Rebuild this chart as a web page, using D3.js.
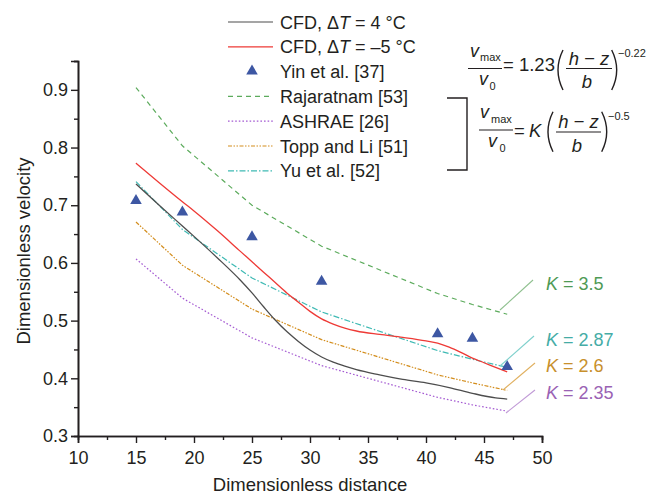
<!DOCTYPE html>
<html><head><meta charset="utf-8">
<script src="https://cdn.jsdelivr.net/npm/d3@7"></script>
<style>
body{margin:0;background:#fff;}
text{font-family:"Liberation Sans",Arial,sans-serif;fill:#231f20;}
</style></head>
<body><svg id="c" width="664" height="495"></svg>
<script>
// ---- data ----
const modelX = [15,19,25,31,41,44,47];
const yinData = [0.708,0.688,0.645,0.568,0.477,0.469,0.420];
const rajaratnam = [0.904,0.803,0.700,0.629,0.547,0.528,0.511];
const ashrae = [0.607,0.539,0.470,0.422,0.367,0.354,0.343];
const toppLi = [0.671,0.596,0.520,0.467,0.406,0.392,0.379];
const yuEtAl = [0.741,0.658,0.574,0.515,0.448,0.433,0.419];
const cfd4X = [15,17,19,20,22,24,25,26,27,28,29,30,31,32,33,34,36,38,40,42,44,46,47];
const cfd4Y = [0.737,0.700,0.664,0.646,0.609,0.570,0.548,0.524,0.501,0.481,0.464,0.449,0.437,0.428,0.421,0.415,0.406,0.398,0.392,0.384,0.374,0.366,0.364];
const cfdm5X = [15,17,19,20,22,24,25,26,27,28,29,30,31,32,33,34,36,38,40,41,42,43,44,45,46,47];
const cfdm5Y = [0.773,0.739,0.706,0.690,0.656,0.620,0.602,0.584,0.566,0.548,0.532,0.516,0.503,0.494,0.487,0.482,0.476,0.471,0.465,0.461,0.454,0.445,0.435,0.427,0.419,0.411];
const xTicks = [10,15,20,25,30,35,40,45,50];
const yTicks = [0.3,0.4,0.5,0.6,0.7,0.8,0.9];
const kLabels = ["3.5","2.87","2.6","2.35"];

const svg = d3.select("#c");
const x = d3.scaleLinear().domain([10,50]).range([78,542]);
const y = d3.scaleLinear().domain([0.3,0.95]).range([436,61]);

// axes
const axisCol = "#231f20";
function styleAxis(g){
  g.select(".domain").attr("stroke",axisCol).attr("stroke-width",1.6);
  g.selectAll(".tick line").attr("stroke",axisCol).attr("stroke-width",1.4);
  g.selectAll(".tick text").attr("font-size",18).attr("fill","#231f20")
   .style("font-family","'Liberation Sans',Arial,sans-serif");
}
const xMinor = d3.range(12.5,50,5);
const yMinor = d3.range(0.35,0.96,0.1);
svg.append("g").attr("transform","translate(0,436)")
  .call(d3.axisBottom(x).tickValues(xMinor).tickSize(4).tickFormat("")).call(styleAxis);
svg.append("g").attr("transform","translate(78,0)")
  .call(d3.axisLeft(y).tickValues(yMinor).tickSize(4).tickFormat("")).call(styleAxis);
svg.append("g").attr("transform","translate(0,436)")
  .call(d3.axisBottom(x).tickValues(xTicks).tickSize(7).tickPadding(8).tickFormat(d3.format("d"))).call(styleAxis);
svg.append("g").attr("transform","translate(78,0)")
  .call(d3.axisLeft(y).tickValues(yTicks).tickSize(7).tickPadding(3).tickFormat(d3.format(".1f"))).call(styleAxis);

svg.append("text").attr("x",310).attr("y",491).attr("text-anchor","middle").attr("font-size",18.5).text("Dimensionless distance");
svg.append("text").attr("transform","translate(30,251) rotate(-90)").attr("text-anchor","middle").attr("font-size",18.5).text("Dimensionless velocity");

// series
const series = [
  {name:"Rajaratnam [53]", xs:modelX, ys:rajaratnam, color:"#5cab5c", dash:"5,4", w:1.2, curve:d3.curveLinear},
  {name:"ASHRAE [26]", xs:modelX, ys:ashrae, color:"#a45ad2", dash:"1.6,2", w:1.2, curve:d3.curveLinear},
  {name:"Topp and Li [51]", xs:modelX, ys:toppLi, color:"#d38d1c", dash:"4,1.5,1.5,1.5,1.5,1.5", w:1.2, curve:d3.curveLinear},
  {name:"Yu et al. [52]", xs:modelX, ys:yuEtAl, color:"#3fbab4", dash:"6,2,1.5,2", w:1.2, curve:d3.curveLinear},
  {name:"CFD4", xs:cfd4X, ys:cfd4Y, color:"#4d4d4d", dash:null, w:1.3, curve:d3.curveMonotoneX},
  {name:"CFD-5", xs:cfdm5X, ys:cfdm5Y, color:"#ee3a36", dash:null, w:1.3, curve:d3.curveMonotoneX}
];
series.forEach(s=>{
  const line = d3.line().x(d=>x(d[0])).y(d=>y(d[1])).curve(s.curve);
  svg.append("path").datum(s.xs.map((v,i)=>[v,s.ys[i]]))
    .attr("d",line).attr("fill","none").attr("stroke",s.color)
    .attr("stroke-width",s.w).attr("stroke-dasharray",s.dash);
});

// Yin triangles
const tri = d3.symbol().type(d3.symbolTriangle).size(58);
svg.selectAll(".yin").data(modelX.map((v,i)=>[v,yinData[i]])).join("path")
  .attr("transform",d=>`translate(${x(d[0])},${y(d[1])})`).attr("d",tri).attr("fill","#3d57a3");

// K labels with leader lines
const kPos = [
  {k:kLabels[0], lx1:500, ly1:310, lx2:533, ly2:280, ty:290, c:"#4f9a55", lc:"#8fc08f"},
  {k:kLabels[1], lx1:500, ly1:366, lx2:534, ly2:336, ty:346, c:"#45aca6", lc:"#7fd0cc"},
  {k:kLabels[2], lx1:503, ly1:390, lx2:535, ly2:363, ty:372, c:"#c8902c", lc:"#e0b060"},
  {k:kLabels[3], lx1:506, ly1:413, lx2:535, ly2:390, ty:399, c:"#9a62b4", lc:"#c09ad6"}
];
kPos.forEach(p=>{
  svg.append("line").attr("x1",p.lx1).attr("y1",p.ly1).attr("x2",p.lx2).attr("y2",p.ly2)
    .attr("stroke",p.lc).attr("stroke-width",1.1);
  const t = svg.append("text").attr("x",546).attr("y",p.ty).attr("font-size",18).style("fill",p.c);
  t.append("tspan").attr("font-style","italic").text("K");
  t.append("tspan").text(" = "+p.k);
});

// legend
const leg = [
  {type:"line", color:"#4d4d4d", dash:null, label:[["CFD, Δ",""],["T","i"],[" = 4 °C",""]]},
  {type:"line", color:"#ee3a36", dash:null, label:[["CFD, Δ",""],["T","i"],[" = –5 °C",""]]},
  {type:"tri", label:[["Yin et al. [37]",""]]},
  {type:"line", color:"#5cab5c", dash:"5,4", label:[["Rajaratnam [53]",""]]},
  {type:"line", color:"#a45ad2", dash:"1.6,2", label:[["ASHRAE [26]",""]]},
  {type:"line", color:"#d38d1c", dash:"4,1.5,1.5,1.5,1.5,1.5", label:[["Topp and Li [51]",""]]},
  {type:"line", color:"#3fbab4", dash:"6,2,1.5,2", label:[["Yu et al. [52]",""]]}
];
leg.forEach((l,i)=>{
  const by = 28.5 + i*24.8;
  if(l.type==="line"){
    svg.append("line").attr("x1",228).attr("x2",273).attr("y1",by-6.5).attr("y2",by-6.5)
      .attr("stroke",l.color).attr("stroke-width",1.2).attr("stroke-dasharray",l.dash);
  } else {
    svg.append("path").attr("transform",`translate(252,${by-7})`).attr("d",tri).attr("fill","#3d57a3");
  }
  const t = svg.append("text").attr("x",280).attr("y",by).attr("font-size",18);
  l.label.forEach(p=>{ const s=t.append("tspan").text(p[0]); if(p[1]==="i") s.attr("font-style","italic"); });
});

// bracket
svg.append("path").attr("d","M447,98 H467 V170 H447").attr("fill","none").attr("stroke","#231f20").attr("stroke-width",1.4);

// equations
function txt(xp,yp,str,size,italic,anchor){
  const t=svg.append("text").attr("x",xp).attr("y",yp).attr("font-size",size).text(str);
  if(italic) t.attr("font-style","italic");
  if(anchor) t.attr("text-anchor",anchor);
  return t;
}
function hbar(x1,x2,yy){ svg.append("line").attr("x1",x1).attr("x2",x2).attr("y1",yy).attr("y2",yy).attr("stroke","#231f20").attr("stroke-width",1.1); }
function paren(xp,top,bot,dir){
  const mid=(top+bot)/2;
  svg.append("path").attr("d",`M${xp},${top} Q${xp-dir*10},${mid} ${xp},${bot}`).attr("fill","none").attr("stroke","#231f20").attr("stroke-width",1.4);
}
// eq 1
txt(470,57,"v",18,true); txt(480,61,"max",11,false);
hbar(468,502,68.5);
txt(479,85,"v",18,true); txt(489.5,90,"0",11,false);
txt(503,71,"= 1.23",18.5,false);
paren(563,50,90,1);
txt(589,65,"h − z",18.5,true,"middle");
hbar(566,612,68.5);
txt(587,87.5,"b",18.5,true,"middle");
paren(611.7,50,90,-1);
txt(618,56.5,"−0.22",11,false);
// eq 2
txt(480,118,"v",18,true); txt(491,123,"max",11,false);
hbar(479,513,130);
txt(488,147,"v",18,true); txt(499.5,152,"0",11,false);
txt(514,136.5,"=",18.5,false); txt(529,136.5,"K",18.5,true);
paren(553,111.7,151.7,1);
txt(578.5,128,"h − z",18.5,true,"middle");
hbar(556,601,132);
txt(577,151.5,"b",18.5,true,"middle");
paren(601.7,111.7,151.7,-1);
txt(608,120,"−0.5",11,false);
</script></body></html>
